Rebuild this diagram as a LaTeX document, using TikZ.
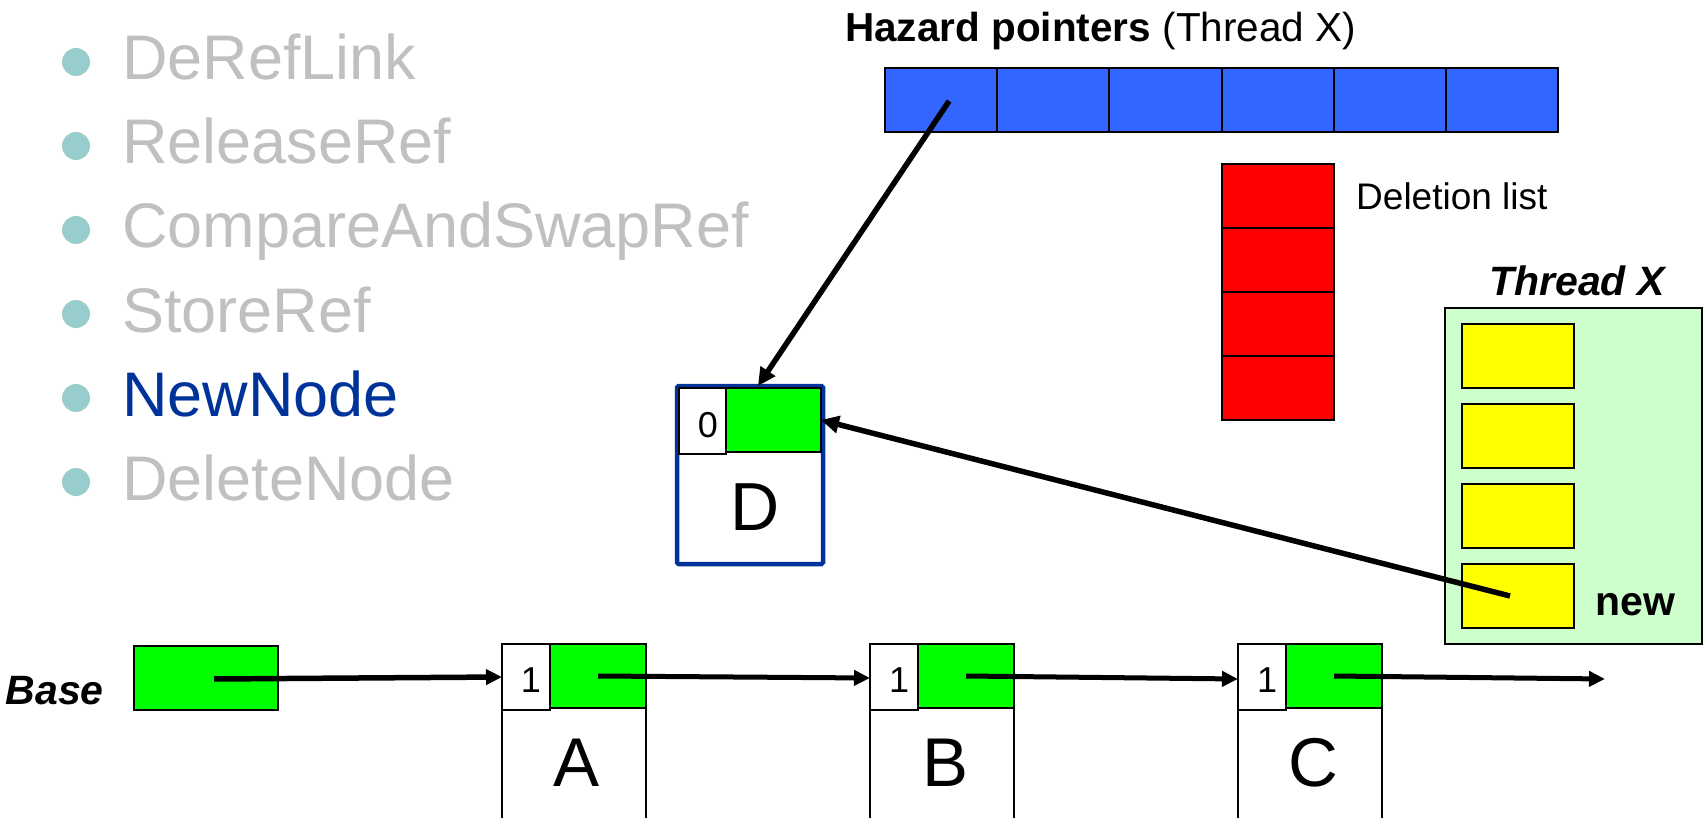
\documentclass[tikz,border=0pt]{standalone}
\usepackage{fontspec}
\setmainfont{Liberation Sans}
\usetikzlibrary{arrows.meta,calc}
\definecolor{hzblue}{HTML}{3366FF}
\definecolor{dred}{HTML}{FF0000}
\definecolor{lgreen}{HTML}{00FF00}
\definecolor{thrgreen}{HTML}{CCFFCC}
\definecolor{yel}{HTML}{FFFF00}
\definecolor{navy}{HTML}{003399}
\definecolor{grayt}{HTML}{C0C0C0}
\definecolor{tealdot}{HTML}{99CCCC}
\begin{document}
\begin{tikzpicture}[x=1pt,y=-1pt,
  cell/.style={draw=black, line width=2pt, inner sep=0pt, outer sep=0pt, anchor=north west},
  ptr/.style={line width=5.5pt, -{Triangle[length=18pt,width=17pt]}},
  lptr/.style={line width=5pt, -{Triangle[length=16pt,width=15pt]}},
  item/.style={anchor=base west, inner sep=0pt, font=\fontsize{63}{70}\selectfont, text=grayt},
  dot/.style={circle, fill=tealdot, minimum size=28pt, inner sep=0pt},
  cnt/.style={inner sep=0pt, anchor=base, font=\fontsize{36}{40}\selectfont},
  big/.style={inner sep=0pt, anchor=base, font=\fontsize{69}{75}\selectfont}]
\useasboundingbox (0,0) rectangle (1705,818);

% bullet list
\foreach \i in {0,...,5}{
  \node[dot] (b\i) at (76,{62+84*\i}) {};
}
\node[item] (t0) at (122,80) {DeRefLink};
\node[item] (t1) at (122,164) {ReleaseRef};
\node[item] (t2) at (122,248) {CompareAndSwapRef};
\node[item] (t3) at (122,332) {StoreRef};
\node[item, text=navy] (t4) at (122,416) {NewNode};
\node[item] (t5) at (122,500) {DeleteNode};

% hazard pointers
\node[inner sep=0pt, anchor=base west, font=\fontsize{40.5}{44}\selectfont] (htitle) at (845,42)
  {\textbf{Hazard pointers} (Thread X)};
\foreach \i in {1,...,6}{
  \node[cell, fill=hzblue, minimum width=112.17pt, minimum height=64pt] (h\i) at ({885+112.17*(\i-1)},68) {};
}

% deletion list
\foreach \i in {1,...,4}{
  \node[cell, fill=dred, minimum width=112pt, minimum height=64pt] (r\i) at (1222,{164+64*(\i-1)}) {};
}
\node[inner sep=0pt, anchor=base west, font=\fontsize{37}{40}\selectfont] (dlabel) at (1356,210) {Deletion list};

% thread X
\node[inner sep=0pt, anchor=base, font=\fontsize{41}{45}\selectfont\bfseries\itshape] (tlabel) at (1577,296) {Thread X};
\node[cell, fill=thrgreen, minimum width=257pt, minimum height=336pt] (thr) at (1445,308) {};
\foreach \i in {1,...,4}{
  \node[cell, fill=yel, minimum width=112pt, minimum height=64pt] (y\i) at (1462,{324+80*(\i-1)}) {};
}
\node[inner sep=0pt, anchor=base west, font=\fontsize{41}{45}\selectfont\bfseries] (newl) at (1595,615) {new};

% node D
\node[draw=navy, line width=4.5pt, rounded corners=1.5pt, inner sep=0pt, outer sep=0pt, anchor=north west,
  minimum width=146pt, minimum height=178pt] (D) at (677,386) {};
\node[cell, fill=white, minimum width=47pt, minimum height=66pt] (D0) at (679,388) {};
\node[cell, fill=lgreen, minimum width=95pt, minimum height=64pt] (Dg) at (726,388) {};
\node[cnt] (D0t) at (708,437) {0};
\node[inner sep=0pt, anchor=base, font=\fontsize{68}{72}\selectfont] (Dt) at (755,530) {D};

% base
\node[inner sep=0pt, anchor=base east, font=\fontsize{41}{45}\selectfont\bfseries\itshape] (basel) at (104,704) {Base};
\node[cell, fill=lgreen, minimum width=144pt, minimum height=64pt] (base) at (134,646) {};

% list nodes A, B, C
\foreach \n/\x in {A/502,B/870,C/1238}{
  \node[cell, minimum width=144pt, minimum height=180pt] (\n) at (\x,644) {};
  \node[cell, fill=white, minimum width=48pt, minimum height=66pt] (\n1) at (\x,644) {};
  \node[cell, fill=lgreen, minimum width=96pt, minimum height=64pt] (\n g) at ({\x+48},644) {};
  \node[cnt] (\n c) at ({\x+29},692) {1};
  \node[big] (\n t) at ({\x+75},786) {\n};
}
\coordinate (listend) at (1605,679);

% connectors
\draw[ptr] ($(h1.center)+(8,1)$) -- ($(D.north west)+(81,0)$);
\draw[ptr] ($(y4.center)+(-8,0)$) -- (Dg.east);
\draw[lptr, line width=5.5pt] ($(base.center)+(8,1)$) -- (A1.west);
\draw[lptr] (Ag.center) -- ($(B1.west)+(0,1)$);
\draw[lptr] (Bg.center) -- ($(C1.west)+(0,2)$);
\draw[lptr] (Cg.center) -- (listend);
\end{tikzpicture}
\end{document}
